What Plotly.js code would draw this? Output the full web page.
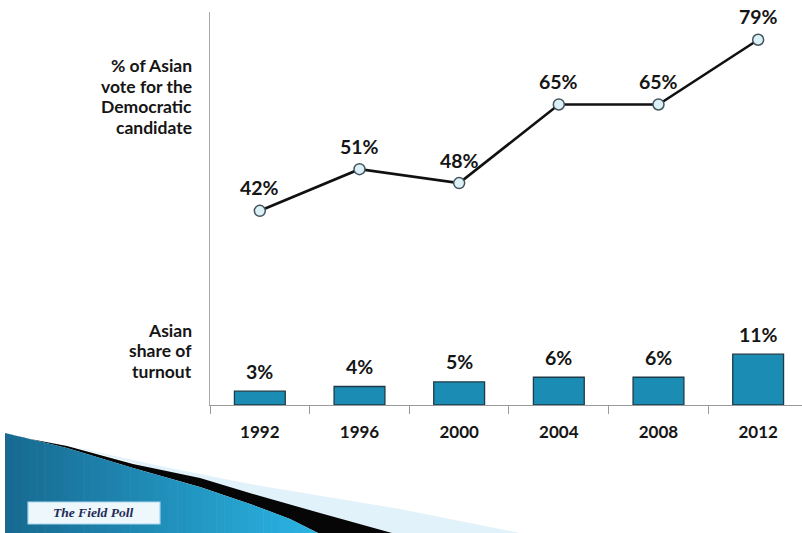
<!DOCTYPE html>
<html>
<head>
<meta charset="utf-8">
<script src="https://cdn.plot.ly/plotly-3.0.1.min.js"></script>
<style>html,body{margin:0;padding:0;background:#fff;}#chart{width:802px;height:533px;}</style>
</head>
<body>
<div id="chart"></div>
<script>
const years = ['1992', '1996', '2000', '2004', '2008', '2012'];
const demVote = [42, 51, 48, 65, 65, 79];
const turnoutShare = [3, 4, 5, 6, 6, 11];
const labelVoteLines = ['% of Asian', 'vote for the', 'Democratic', 'candidate'];
const labelTurnoutLines = ['Asian', 'share of', 'turnout'];
const brand = 'The Field Poll';

// plot-area geometry (pixels) used only to place decoration shapes
const L = 210, T = 12, W = 592, H = 393;
const px = x => +((x - L) / W).toFixed(4);
const py = y => +((T + H - y) / H).toFixed(4);
function poly(pts) {
  return 'M ' + pts.map(p => px(p[0]) + ',' + py(p[1])).join(' L ') + ' Z';
}
function interp(edge, x) {
  for (let i = 0; i < edge.length - 1; i++) {
    const a = edge[i], b = edge[i + 1];
    if (x >= a[0] && x <= b[0]) return a[1] + (b[1] - a[1]) * (x - a[0]) / (b[0] - a[0]);
  }
  return edge[edge.length - 1][1];
}
function under(edge, xa, xb, bottom) {
  const pts = [[xa, interp(edge, xa)]];
  edge.forEach(p => { if (p[0] > xa && p[0] < xb) pts.push(p); });
  pts.push([xb, interp(edge, xb)]);
  pts.push([xb, bottom]); pts.push([xa, bottom]);
  return pts;
}
function mix(c1, c2, t) {
  const a = [1, 3, 5].map(i => parseInt(c1.substr(i, 2), 16));
  const b = [1, 3, 5].map(i => parseInt(c2.substr(i, 2), 16));
  return 'rgb(' + a.map((v, i) => Math.round(v + (b[i] - v) * t)).join(',') + ')';
}

const font = 'Lato, "Open Sans", sans-serif';
const dark = '#151515';

const traces = [
  {
    type: 'bar', x: years, y: turnoutShare, width: 0.51,
    marker: { color: '#1b8db5', line: { color: '#1d3a46', width: 1.3 } },
    hoverinfo: 'skip'
  },
  {
    type: 'scatter', mode: 'lines+markers', x: years, y: demVote,
    line: { color: '#111', width: 2.6 },
    marker: { size: 11, color: '#dcf0f7', line: { color: '#43545c', width: 1.5 } },
    hoverinfo: 'skip'
  }
];

const annotations = [];
years.forEach((yr, i) => {
  annotations.push({ x: i, y: demVote[i], xref: 'x', yref: 'y', text: demVote[i] + '%',
    showarrow: false, yanchor: 'middle', yshift: 23,
    font: { family: font, size: 19.5, weight: 700, color: dark } });
  annotations.push({ x: i, y: turnoutShare[i], xref: 'x', yref: 'y', text: turnoutShare[i] + '%',
    showarrow: false, yanchor: 'middle', yshift: 20,
    font: { family: font, size: 19.5, weight: 700, color: dark } });
});
const voteY = [66, 86.5, 107, 127.5];
labelVoteLines.forEach((t, i) => annotations.push({ xref: 'paper', yref: 'paper', x: px(194), y: py(voteY[i]),
  xanchor: 'right', yanchor: 'middle', showarrow: false, text: t,
  font: { family: font, size: 17.5, weight: 700, color: dark } }));
const turnY = [330, 350.5, 371];
labelTurnoutLines.forEach((t, i) => annotations.push({ xref: 'paper', yref: 'paper', x: px(194), y: py(turnY[i]),
  xanchor: 'right', yanchor: 'middle', showarrow: false, text: t,
  font: { family: font, size: 17.5, weight: 700, color: dark } }));
annotations.push({ xref: 'paper', yref: 'paper', x: px(93), y: py(513), xanchor: 'center', yanchor: 'middle',
  showarrow: false, text: brand,
  font: { family: '"Liberation Serif", "DejaVu Serif", serif', size: 13.5, weight: 700, style: 'italic', color: '#1f2b58' } });

// swoosh edges (pixels)
const blueTop = [[5, 433], [67, 448], [133, 468], [200, 487], [253, 505], [290, 519], [318, 533]];
const blackTop = [[25, 438], [67, 446], [133, 464], [200, 478], [253, 494], [320, 513], [392, 533]];
const lightTop = [[70, 446], [160, 466], [250, 484], [400, 509], [520, 533]];

const shapes = [];
shapes.push({ type: 'path', xref: 'paper', yref: 'paper', layer: 'below', line: { width: 0 }, fillcolor: '#e2f2fa',
  path: poly(lightTop.concat([[392, 533]])) });
shapes.push({ type: 'path', xref: 'paper', yref: 'paper', layer: 'below', line: { width: 0 }, fillcolor: '#060606',
  path: poly(blackTop.concat(blueTop.slice().reverse())) });
// blue swoosh built from thin strips shading dark (left) to bright (right)
const nStrips = 40;
const stripW = (318 - 5) / nStrips;
for (let k = 0; k < nStrips; k++) {
  const xa = 5 + k * stripW, xb = Math.min(318, xa + stripW + 0.6);
  shapes.push({ type: 'path', xref: 'paper', yref: 'paper', layer: 'below', line: { width: 0 },
    fillcolor: mix('#176a91', '#2bb3e2', k / (nStrips - 1)),
    path: poly(under(blueTop, xa, xb, 533)) });
}
shapes.push({ type: 'rect', xref: 'paper', yref: 'paper', layer: 'below', x0: px(28), x1: px(160), y0: py(524), y1: py(502),
  fillcolor: '#eef7fb', line: { color: '#a7d8ec', width: 1.2 } });

const layout = {
  width: 802, height: 533,
  margin: { l: L, r: 0, t: T, b: 533 - T - H },
  paper_bgcolor: '#fff', plot_bgcolor: '#fff',
  showlegend: false,
  xaxis: {
    type: 'category', range: [-0.5, 5.44], tickson: 'boundaries',
    ticks: 'outside', ticklen: 8, tickcolor: '#9a9a9a', tickwidth: 1,
    showline: true, linecolor: '#9a9a9a', linewidth: 1,
    showgrid: false, zeroline: false, ticklabelstandoff: 12,
    tickfont: { family: font, size: 17, weight: 700, color: dark }
  },
  yaxis: {
    range: [0, 85], showline: true, linecolor: '#a8a8a8', linewidth: 1,
    showticklabels: false, ticks: '', showgrid: false, zeroline: false
  },
  annotations: annotations,
  shapes: shapes
};

Plotly.newPlot('chart', traces, layout, { staticPlot: true, displayModeBar: false });
</script>
</body>
</html>
